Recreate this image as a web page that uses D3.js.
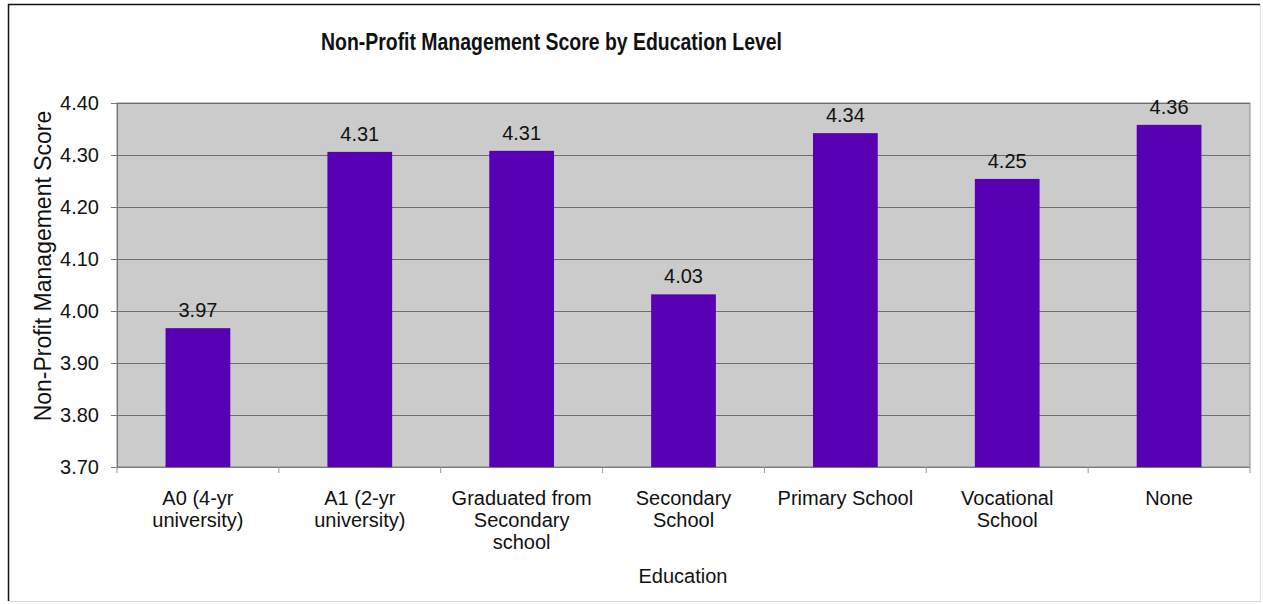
<!doctype html>
<html>
<head>
<meta charset="utf-8">
<title>Non-Profit Management Score by Education Level</title>
<script src="https://cdn.jsdelivr.net/npm/d3@7"></script>
<style>
body, html {
  margin: 0;
  padding: 0;
  background: #fff;
}
svg text {
  font-family: "Liberation Sans", Arial, sans-serif;
  fill: #111;
}
</style>
</head>
<body>
<div id="chart"></div>
<script>
// data
var categories = ["A0 (4-yr\nuniversity)", "A1 (2-yr\nuniversity)", "Graduated from\nSecondary\nschool",
                  "Secondary\nSchool", "Primary School", "Vocational\nSchool", "None"];
var scores = [3.967, 4.306, 4.308, 4.032, 4.342, 4.254, 4.358];
var yTicks = [3.70, 3.80, 3.90, 4.00, 4.10, 4.20, 4.30, 4.40];

var title = "Non-Profit Management Score by Education Level";
var xTitle = "Education";
var yTitle = "Non-Profit Management Score";

var width = 1263, height = 604;
var plot = {left: 117, top: 103, right: 1250, bottom: 467};
var fontSize = 20;

var svg = d3.select("#chart").append("svg")
    .attr("width", width)
    .attr("height", height);

// outer frame
svg.append("rect")
    .attr("x", 8.5).attr("y", 4.5)
    .attr("width", 1252).attr("height", 597)
    .attr("fill", "#fff")
    .attr("stroke", "#ddd");
svg.append("path")
    .attr("d", "M8.5,601 V4.5 H1260")
    .attr("fill", "none")
    .attr("stroke", "#111")
    .attr("stroke-width", 1.5);

var x = d3.scaleBand()
    .domain(categories)
    .range([plot.left, plot.right])
    .paddingInner(0.6)
    .paddingOuter(0.3);

var y = d3.scaleLinear()
    .domain([3.70, 4.40])
    .range([plot.bottom, plot.top]);

// plot background
svg.append("rect")
    .attr("x", plot.left).attr("y", plot.top)
    .attr("width", plot.right - plot.left)
    .attr("height", plot.bottom - plot.top)
    .attr("fill", "#cbcbcb")
    .attr("stroke", "#8a8a8a");

// gridlines
svg.append("g")
    .selectAll("line")
    .data(yTicks)
    .join("line")
    .attr("x1", plot.left).attr("x2", plot.right)
    .attr("y1", d => Math.round(y(d)) + 0.5)
    .attr("y2", d => Math.round(y(d)) + 0.5)
    .attr("stroke", "#6e6e6e");

// y axis
var yAxis = svg.append("g")
    .attr("transform", "translate(" + plot.left + ",0)")
    .call(d3.axisLeft(y).tickValues(yTicks).tickFormat(d3.format(".2f")).tickSize(6).tickPadding(12));
yAxis.select(".domain").attr("stroke", "#777");
yAxis.selectAll(".tick line").attr("stroke", "#777");
yAxis.selectAll(".tick text")
    .attr("font-size", fontSize)
    .attr("fill", "#111")
    .style("font-family", "'Liberation Sans', Arial, sans-serif");

// x axis (ticks sit between categories)
var bounds = d3.range(categories.length + 1).map(i => plot.left + i * (plot.right - plot.left) / categories.length);
svg.append("line")
    .attr("x1", plot.left).attr("x2", plot.right)
    .attr("y1", plot.bottom + 0.5).attr("y2", plot.bottom + 0.5)
    .attr("stroke", "#777");
svg.append("g")
    .selectAll("line")
    .data(bounds)
    .join("line")
    .attr("x1", d => d).attr("x2", d => d)
    .attr("y1", plot.bottom).attr("y2", plot.bottom + 6)
    .attr("stroke", "#999");

// bars
svg.append("g")
    .selectAll("rect")
    .data(scores)
    .join("rect")
    .attr("x", (d, i) => x(categories[i]))
    .attr("width", x.bandwidth())
    .attr("y", d => y(d))
    .attr("height", d => y(3.70) - y(d))
    .attr("fill", "#5700b4");

// value labels
svg.append("g")
    .selectAll("text")
    .data(scores)
    .join("text")
    .attr("x", (d, i) => x(categories[i]) + x.bandwidth() / 2)
    .attr("y", d => y(d) - 11)
    .attr("text-anchor", "middle")
    .attr("font-size", fontSize)
    .text(d => d.toFixed(2));

// category labels
var labels = svg.append("g")
    .selectAll("text")
    .data(categories)
    .join("text")
    .attr("text-anchor", "middle")
    .attr("font-size", fontSize)
    .attr("transform", d => "translate(" + (x(d) + x.bandwidth() / 2) + "," + 505 + ")");
labels.selectAll("tspan")
    .data(d => d.split("\n"))
    .join("tspan")
    .attr("x", 0)
    .attr("y", (d, i) => i * 22)
    .text(d => d);

// titles (condensed bold, like the original)
svg.append("text")
    .attr("x", 321).attr("y", 50)
    .attr("font-size", 23)
    .attr("font-weight", "bold")
    .attr("textLength", 461)
    .attr("lengthAdjust", "spacingAndGlyphs")
    .text(title);

svg.append("text")
    .attr("x", 683).attr("y", 583)
    .attr("text-anchor", "middle")
    .attr("font-size", fontSize)
    .text(xTitle);

svg.append("text")
    .attr("transform", "translate(51,266) rotate(-90)")
    .attr("text-anchor", "middle")
    .attr("font-size", 23)
    .text(yTitle);
</script>
</body>
</html>
